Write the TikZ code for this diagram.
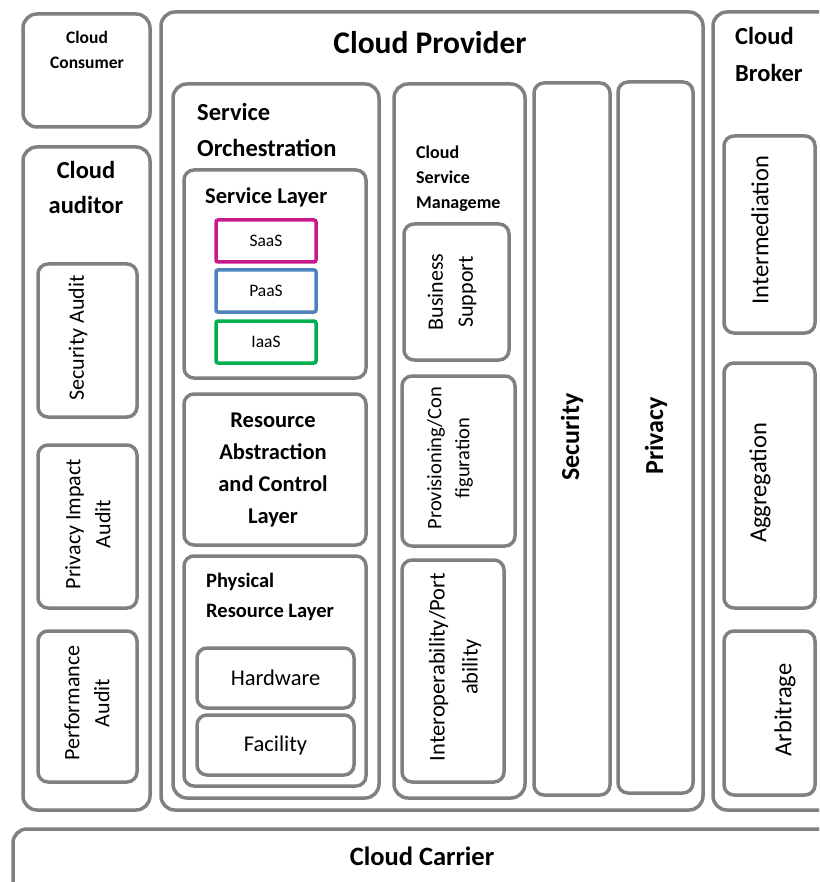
\documentclass[tikz,border=0pt]{standalone}
\usepackage{fontspec}
\setmainfont{Carlito}
\usetikzlibrary{positioning,fit}
\definecolor{cfgray}{HTML}{808080}
\definecolor{cfsaas}{HTML}{C8198C}
\definecolor{cfpaas}{HTML}{4F81BD}
\definecolor{cfiaas}{HTML}{00B050}
\tikzset{
  pane/.style={draw=cfgray, line width=3.5pt, rounded corners=14pt, inner sep=0pt},
  cell/.style={pane, rounded corners=10pt},
  tier/.style={draw=#1, line width=3.5pt, rounded corners=2pt, inner sep=0pt},
  lbl/.style={inner sep=0pt, font=\fontsize{17.5}{20}\selectfont},
  hd/.style={inner sep=0pt, align=left, anchor=base west, font=\bfseries\fontsize{24.5}{36}\selectfont},
  hdc/.style={hd, align=center, anchor=base},
  vt/.style={rotate=90, inner sep=0pt, align=center, font=\fontsize{22}{30}\selectfont},
  vtb/.style={vt, font=\bfseries\fontsize{26}{30}\selectfont},
}
\begin{document}
\begin{tikzpicture}[x=1pt, y=-1pt]
  \useasboundingbox (0,0) rectangle (819,882);
  \clip (0,0) rectangle (819,882);
  % actors
  \node[pane, fit={(23,14) (150,127)}] (cons) {};
  \node[pane, fit={(23,147) (150,810)}] (aud) {};
  \node[pane, fit={(161,12) (703,810)}] (prov) {};
  \node[pane, fit={(713,12) (870,810)}] (brk) {};
  \node[pane, fit={(13,829) (870,900)}] (carr) {};
  % last-line baselines
  \node[hdc, font=\bfseries\fontsize{17.5}{25}\selectfont] (consT) at (87,69) {Cloud\\Consumer};
  \node[hdc, font=\bfseries\fontsize{24.5}{35}\selectfont] (audT) at (86,214) {Cloud\\auditor};
  \node[hdc, font=\bfseries\fontsize{31.5}{36}\selectfont] (provT) at (430,54) {Cloud Provider};
  \node[hd, font=\bfseries\fontsize{24.5}{37}\selectfont] (brkT) at (735,82) {Cloud\\Broker};
  \node[hdc, font=\bfseries\fontsize{26.5}{30}\selectfont] (carrT) at (422,865) {Cloud Carrier};
  % auditor
  \node[cell, fit={(38,264) (137,417)}] (secA) {};
  \node[cell, fit={(38,445) (137,608)}] (privA) {};
  \node[cell, fit={(38,631) (137,782)}] (perfA) {};
  \node[vt] (secAT) at (78,338) {Security Audit};
  \node[vt] (privAT) at (88,524) {Privacy Impact\\Audit};
  \node[vt] (perfAT) at (87,703) {Performance\\Audit};
  % service orchestration
  \node[pane, fit={(173,84) (379,798)}] (orch) {};
  \node[hd] (orchT) at (197,157) {Service\\Orchestration};
  \node[cell, fit={(184,170) (366,378)}] (svc) {};
  \node[hd, font=\bfseries\fontsize{22.5}{30}\selectfont] (svcT) at (205,204) {Service Layer};
  \node[tier=cfsaas, fit={(216,220) (316,262)}] (saas) {};
  \node[tier=cfpaas, fit={(216,270) (316,312)}] (paas) {};
  \node[tier=cfiaas, fit={(216,321) (316,363)}] (iaas) {};
  \node[lbl] (saasT) at (saas) {SaaS};
  \node[lbl] (paasT) at (paas) {PaaS};
  \node[lbl] (iaasT) at (iaas) {IaaS};
  \node[cell, fit={(184,394) (366,545)}] (rac) {};
  \node[hdc, font=\bfseries\fontsize{22.5}{32}\selectfont] (racT) at (273,523) {Resource\\Abstraction\\and Control\\Layer};
  \node[cell, fit={(184,556) (366,786)}] (phys) {};
  \node[hd, font=\bfseries\fontsize{20.5}{30}\selectfont] (physT) at (206,617) {Physical\\Resource Layer};
  \node[cell, fit={(197,648) (354,708)}] (hw) {};
  \node[cell, fit={(197,715) (354,775)}] (fac) {};
  \node[lbl, font=\fontsize{22.5}{26}\selectfont] (hwT) at (hw) {Hardware};
  \node[lbl, font=\fontsize{22.5}{26}\selectfont] (facT) at (fac) {Facility};
  % service management
  \node[pane, fit={(394,84) (525,798)}] (csm) {};
  \node[hd, font=\bfseries\fontsize{18}{25}\selectfont] (csmT) at (416,209) {Cloud\\Service\\Manageme};
  \node[cell, fit={(404,224) (509,360)}] (bus) {};
  \node[cell, fit={(402,376) (515,546)}] (prv) {};
  \node[cell, fit={(402,560) (504,782)}] (iop) {};
  \node[vt] (busT) at (452,292) {Business\\Support};
  \node[vt, font=\fontsize{20.5}{28}\selectfont] (prvT) at (450,458) {Provisioning/Con\\figuration};
  \node[vt, font=\fontsize{22.5}{33}\selectfont] (iopT) at (455,667) {Interoperability/Port\\ability};
  % security and privacy
  \node[cell, fit={(534,83) (610,795)}] (sec) {};
  \node[cell, fit={(618,82) (693,793)}] (priv) {};
  \node[vtb] (secT) at (572,437) {Security};
  \node[vtb] (privT) at (656,436) {Privacy};
  % broker
  \node[cell, fit={(724,136) (815,333)}] (imed) {};
  \node[cell, fit={(724,363) (815,608)}] (aggr) {};
  \node[cell, fit={(724,631) (815,795)}] (arb) {};
  \node[vt, font=\fontsize{24.5}{30}\selectfont] (imedT) at (760,230) {Intermediation};
  \node[vt, font=\fontsize{24.5}{30}\selectfont] (aggrT) at (760,483) {Aggregation};
  \node[vt, font=\fontsize{24.5}{30}\selectfont] (arbT) at (785,710) {Arbitrage};
\end{tikzpicture}
\end{document}
